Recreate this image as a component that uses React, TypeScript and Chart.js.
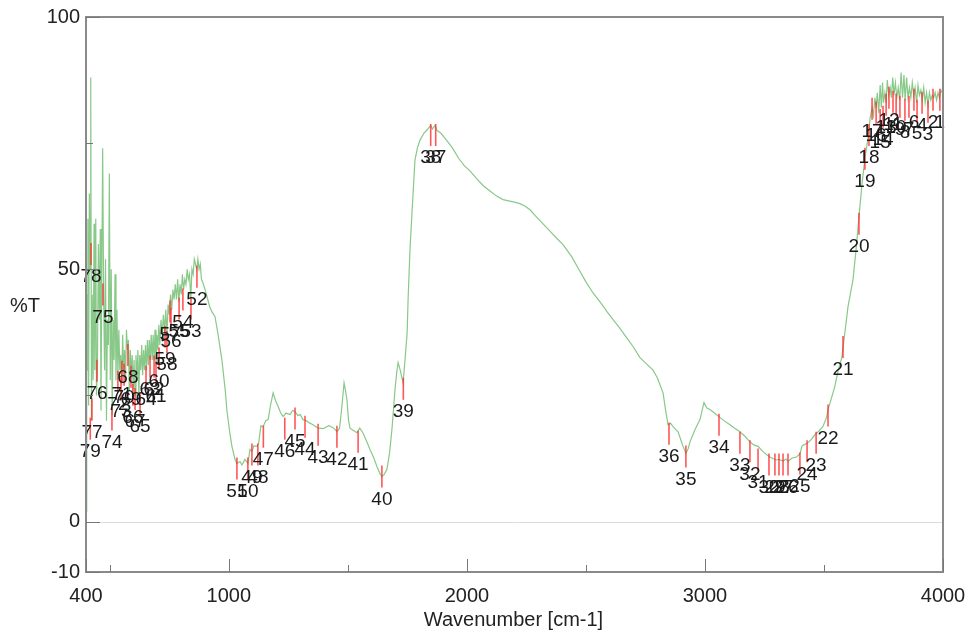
import { useEffect, useRef } from "react";
import { Chart, registerables } from "chart.js";

Chart.register(...registerables);

// Spectrum (wavenumber in cm-1, %T)
const WAVENUMBER = [
  400, 402, 404, 406, 408, 411, 414, 417, 420, 423, 426, 430, 434, 437, 441, 444, 448, 452, 456, 460,
  463, 466, 470, 474, 478, 482, 486, 490, 494, 498, 502, 506, 510, 514, 518, 522, 526, 530, 534, 538,
  542, 546, 550, 554, 558, 562, 566, 570, 574, 578, 582, 586, 590, 594, 598, 602, 606, 610, 614, 618,
  622, 626, 630, 634, 638, 642, 646, 650, 654, 658, 662, 666, 670, 674, 678, 682, 686, 690, 694, 698,
  702, 706, 710, 715, 720, 725, 730, 735, 740, 745, 750, 755, 760, 765, 770, 775, 780, 785, 790, 795,
  800, 805, 810, 815, 820, 825, 830, 835, 840, 845, 850, 855, 860, 865, 870, 875, 880, 885, 890, 900,
  908, 920, 930, 942, 955, 971, 985, 992, 1003, 1013, 1026, 1034, 1047, 1055, 1068, 1080, 1089, 1097, 1105, 1118,
  1125, 1135, 1144, 1155, 1165, 1175, 1186, 1196, 1207, 1218, 1228, 1240, 1257, 1268, 1278, 1290, 1300, 1311, 1325, 1340,
  1354, 1375, 1396, 1420, 1438, 1455, 1465, 1475, 1484, 1490, 1496, 1503, 1509, 1525, 1538, 1550, 1563, 1578, 1593, 1610,
  1622, 1635, 1643, 1652, 1664, 1675, 1685, 1698, 1705, 1711, 1720, 1732, 1740, 1749, 1753, 1761, 1770, 1782, 1792, 1803,
  1820, 1832, 1848, 1855, 1866, 1875, 1890, 1916, 1940, 1965, 1990, 2013, 2040, 2070, 2097, 2125, 2152, 2180, 2200, 2223,
  2245, 2265, 2290, 2320, 2350, 2380, 2404, 2440, 2470, 2500, 2530, 2560, 2590, 2614, 2640, 2670, 2698, 2727, 2760, 2782,
  2800, 2824, 2835, 2845, 2855, 2866, 2887, 2900, 2908, 2920, 2930, 2937, 2958, 2979, 2996, 3008, 3021, 3040, 3059, 3080,
  3105, 3125, 3147, 3170, 3189, 3205, 3223, 3245, 3269, 3285, 3300, 3311, 3328, 3340, 3349, 3366, 3385, 3400, 3407, 3415,
  3430, 3445, 3462, 3480, 3495, 3510, 3517, 3530, 3545, 3560, 3575, 3584, 3601, 3622, 3635, 3647, 3660, 3672, 3685, 3694,
  3702, 3708, 3714, 3719, 3724, 3730, 3736, 3741, 3746, 3750, 3756, 3761, 3766, 3772, 3778, 3783, 3789, 3794, 3800, 3806,
  3812, 3818, 3824, 3830, 3836, 3841, 3847, 3853, 3859, 3865, 3871, 3877, 3883, 3889, 3895, 3901, 3907, 3913, 3919, 3925,
  3931, 3937, 3943, 3949, 3955, 3961, 3967, 3973, 3979, 3985, 3991, 3997, 4000,
];

const TRANSMITTANCE = [
  2, 20, 45, 30, 60, 23, 65, 50, 88, 20, 45, 28, 59, 30, 60, 25, 31, 55, 40, 58,
  22, 46, 74, 45, 30, 52, 20, 40, 35, 69, 28, 50, 21, 40, 32, 49, 28, 42, 29, 38,
  30, 33, 27, 37, 30, 34, 28, 38, 34, 36, 26, 34, 29, 33, 26, 32, 25, 33, 28, 34,
  25, 33, 30, 35, 29, 34, 30, 35, 30, 36, 31, 36, 32, 37, 32, 37, 32, 38, 31, 37,
  34, 39, 35, 40, 37, 41, 37.5, 42, 37, 43, 41, 45, 42, 46, 44, 47, 44, 48, 43.5, 47,
  45, 49, 46, 48, 47, 50, 48, 49, 44, 50, 49, 52, 51, 50, 52, 50, 51, 48, 47.5, 46,
  44.6, 42.5, 41.5, 40.6, 37, 32, 26, 22, 18, 14.9, 12.3, 11.5, 11.9, 11.2, 12.3, 11.5, 14.3, 13.9, 15, 14.9,
  15.5, 19, 18.8, 20, 20.2, 23, 25.5, 24, 22.8, 21.5, 20.8, 21.5, 21.2, 22, 21.8, 21, 21.2, 20.2, 20, 19.5,
  19.2, 18.5, 18.4, 19, 18.6, 17.8, 18.5, 22.8, 27.5, 26, 24.2, 20, 18.5, 18, 17.6, 18.5, 17.6, 16, 14.3, 12.5,
  10.9, 9.5, 8.9, 9.3, 10.3, 13.5, 18.2, 26.1, 29.5, 31.5, 30, 27.5, 32, 37.4, 44, 53.9, 61.8, 71.7, 74, 75.6,
  77, 77.6, 78.5, 77.8, 78.5, 77.5, 77, 75.5, 74, 72, 70.5, 69.5, 68, 66.5, 65.5, 64.5, 63.8, 63.5, 63.3, 63,
  62.5, 61.8, 60.5, 59, 57.5, 56, 54.9, 52.5, 50, 47.5, 45.3, 43.5, 41.5, 40, 38.5, 36.5, 34.7, 32.5, 31, 30,
  28.5, 25.5, 22, 19.2, 19.5, 18.8, 17.8, 16, 14.9, 13.5, 14.5, 15.8, 18.2, 20.2, 23.6, 22.5, 22.2, 21.5, 20.8, 20,
  19.2, 18.5, 17.8, 16.8, 15.8, 15.2, 14.9, 13.8, 12.9, 12.5, 12.2, 12.3, 12, 12.4, 11.9, 12.6, 12.8, 13.5, 14.9, 15.2,
  15.5, 16.2, 17.2, 18, 18.8, 20.5, 22.2, 24.2, 26.7, 30, 32.5, 36, 42.6, 48, 54, 60.4, 67, 72, 76, 80,
  82, 80.5, 84, 82, 85, 81, 86.5, 82, 87, 83, 85, 83, 87.5, 84.5, 86, 84, 88, 84.5, 87, 84,
  86, 83.5, 89, 84, 88.5, 83.5, 88, 84, 86, 84, 87, 84.5, 86, 83, 86.5, 84.5, 85.5, 83.5, 86, 83,
  85, 82.5, 85, 83.5, 84.5, 84, 85, 83.5, 85, 84, 85.5, 85, 85.5,
];

// Marked peaks (label number, wavenumber, %T)
const PEAK_IDS = [
  1, 2, 3, 4, 5, 6, 7, 8, 9, 10, 11, 12, 13, 14, 15, 16, 17, 18, 19, 20,
  21, 22, 23, 24, 25, 26, 27, 28, 29, 30, 31, 32, 33, 34, 35, 36, 37, 38, 39, 40,
  41, 42, 43, 44, 45, 46, 47, 48, 49, 50, 51, 52, 53, 54, 55, 56, 57, 58, 59, 60,
  61, 62, 63, 64, 65, 66, 67, 68, 69, 70, 71, 72, 73, 74, 75, 76, 77, 78, 79,
];
const PEAK_WN = [
  3987, 3958, 3937, 3912, 3891, 3878, 3857, 3840, 3819, 3803, 3790, 3773, 3761, 3748, 3736, 3719, 3702, 3689, 3672, 3647,
  3580, 3517, 3467, 3429, 3399, 3349, 3328, 3311, 3294, 3269, 3223, 3189, 3147, 3059, 2920, 2849, 1869, 1848, 1733, 1643,
  1543, 1454, 1375, 1320, 1278, 1235, 1145, 1122, 1097, 1080, 1034, 866, 841, 807, 791, 757, 753, 740, 732, 707,
  694, 686, 669, 652, 627, 597, 606, 576, 589, 560, 551, 534, 547, 509, 471, 446, 425, 421, 418,
];
const PEAK_T = [
  84.6, 84.6, 82.2, 84, 82.4, 84.6, 83.2, 82.6, 83.2, 83.6, 84.2, 85, 83.6, 81.2, 80.6, 82, 82.8, 77.6, 72.9, 60,
  35.6, 22, 16.6, 14.9, 12.5, 12.3, 12.3, 12.3, 12.3, 12.3, 13.3, 14.9, 16.6, 20.2, 13.9, 18.4, 77.6, 77.6, 27.3, 9.9,
  16.8, 17.8, 18.2, 19.8, 21.4, 19.4, 17.8, 14.3, 14.3, 11.5, 11.5, 49.5, 43.2, 45, 43.2, 41.2, 42.6, 36.6, 37.6, 33.3,
  30.3, 31.7, 31.7, 29.7, 24.4, 26.1, 25.3, 34, 29.7, 30.1, 30.7, 28.7, 27.3, 21.2, 46, 30.9, 23.2, 54, 19.4,
];

const X_TICKS = [400, 500, 1000, 1500, 2000, 2500, 3000, 3500, 4000];
const X_LABELED = [400, 1000, 2000, 3000, 4000];
const Y_TICKS = [-10, 0, 25, 50, 75, 100];
const Y_LABELED = [-10, 0, 50, 100];

const X_TITLE = "Wavenumber [cm-1]";
const Y_TITLE = "%T";

const FONT = "'Liberation Sans', Arial, sans-serif";

const overlay = {
  id: "overlay",
  beforeDatasetsDraw(chart: any) {
    const { ctx, chartArea: a, scales } = chart;
    const y0 = Math.round(scales.y.getPixelForValue(0)) + 0.5;
    ctx.save();
    ctx.strokeStyle = "#dcdcdc";
    ctx.lineWidth = 1;
    ctx.beginPath();
    ctx.moveTo(a.left, y0);
    ctx.lineTo(a.right, y0);
    ctx.stroke();
    ctx.restore();
  },
  afterDatasetsDraw(chart: any) {
    const { ctx, chartArea: a, scales } = chart;
    const xs = scales.x;
    const ys = scales.y;
    ctx.save();

    // peak markers
    ctx.strokeStyle = "rgba(255, 45, 45, 0.8)";
    ctx.lineWidth = 1.6;
    for (let i = 0; i < PEAK_IDS.length; i++) {
      const px = xs.getPixelForValue(PEAK_WN[i]);
      const py = ys.getPixelForValue(PEAK_T[i]);
      ctx.beginPath();
      ctx.moveTo(px, py - 6);
      ctx.lineTo(px, py + 16);
      ctx.stroke();
    }
    ctx.fillStyle = "#1a1a1a";
    ctx.font = `19px ${FONT}`;
    ctx.textAlign = "center";
    ctx.textBaseline = "middle";
    for (let i = 0; i < PEAK_IDS.length; i++) {
      const px = xs.getPixelForValue(PEAK_WN[i]);
      const py = ys.getPixelForValue(PEAK_T[i]);
      ctx.fillText(String(PEAK_IDS[i]), px, py + 28);
    }

    // frame
    ctx.strokeStyle = "#8a8a8a";
    ctx.lineWidth = 2;
    ctx.beginPath();
    ctx.moveTo(a.left, a.top);
    ctx.lineTo(a.right, a.top);
    ctx.lineTo(a.right, a.bottom);
    ctx.lineTo(a.left, a.bottom);
    ctx.closePath();
    ctx.stroke();

    // inward tick marks
    ctx.strokeStyle = "#777";
    ctx.lineWidth = 1;
    for (const v of X_TICKS) {
      const px = Math.round(xs.getPixelForValue(v)) + 0.5;
      const len = X_LABELED.includes(v) ? 13 : 7;
      ctx.beginPath();
      ctx.moveTo(px, a.bottom);
      ctx.lineTo(px, a.bottom - len);
      ctx.stroke();
    }
    for (const v of Y_TICKS) {
      const py = Math.round(ys.getPixelForValue(v)) + 0.5;
      const len = Y_LABELED.includes(v) ? 14 : 7;
      ctx.beginPath();
      ctx.moveTo(a.left, py);
      ctx.lineTo(a.left + len, py);
      ctx.stroke();
    }

    // titles
    ctx.fillStyle = "#222";
    ctx.font = `20px ${FONT}`;
    ctx.textAlign = "center";
    ctx.textBaseline = "middle";
    ctx.fillText(X_TITLE, (a.left + a.right) / 2 - 1, 620);
    ctx.textAlign = "left";
    ctx.fillText(Y_TITLE, 10, 306);
    ctx.restore();
  },
};

export default function App() {
  const ref = useRef<HTMLCanvasElement | null>(null);

  useEffect(() => {
    if (!ref.current) return;
    const data = WAVENUMBER.map((w, i) => ({ x: w, y: TRANSMITTANCE[i] }));
    const chart = new Chart(ref.current, {
      type: "line",
      data: {
        datasets: [
          {
            data,
            borderColor: "rgba(115, 190, 115, 0.85)",
            borderWidth: 1.2,
            pointRadius: 0,
            tension: 0,
            fill: false,
          },
        ],
      },
      options: {
        responsive: false,
        animation: false,
        devicePixelRatio: 1,
        layout: { padding: { top: 17, right: 25, left: 0, bottom: 0 } },
        plugins: {
          legend: { display: false },
          tooltip: { enabled: false },
        },
        scales: {
          x: {
            type: "linear",
            min: 400,
            max: 4000,
            grid: { display: false, drawTicks: false },
            border: { display: false },
            afterBuildTicks: (s: any) => {
              s.ticks = X_TICKS.map((v) => ({ value: v }));
            },
            afterFit: (s: any) => {
              s.height = 65;
              s.paddingLeft = 0;
              s.paddingRight = 0;
            },
            ticks: {
              autoSkip: false,
              maxRotation: 0,
              padding: 12,
              color: "#222",
              font: { family: FONT, size: 20 },
              callback: (v: any) => (X_LABELED.includes(Number(v)) ? String(v) : ""),
            },
          },
          y: {
            type: "linear",
            min: -10,
            max: 100,
            grid: { display: false, drawTicks: false },
            border: { display: false },
            afterBuildTicks: (s: any) => {
              s.ticks = Y_TICKS.map((v) => ({ value: v }));
            },
            afterFit: (s: any) => {
              s.width = 86;
              s.paddingTop = 0;
              s.paddingBottom = 0;
            },
            ticks: {
              autoSkip: false,
              padding: 6,
              color: "#222",
              font: { family: FONT, size: 20 },
              callback: (v: any) => (Y_LABELED.includes(Number(v)) ? String(v) : ""),
            },
          },
        },
      },
      plugins: [overlay],
    });
    return () => chart.destroy();
  }, []);

  return (
    <div style={{ position: "fixed", left: 0, top: 0, width: 968, height: 637, background: "#fff" }}>
      <canvas ref={ref} width={968} height={637} style={{ display: "block" }} />
    </div>
  );
}
